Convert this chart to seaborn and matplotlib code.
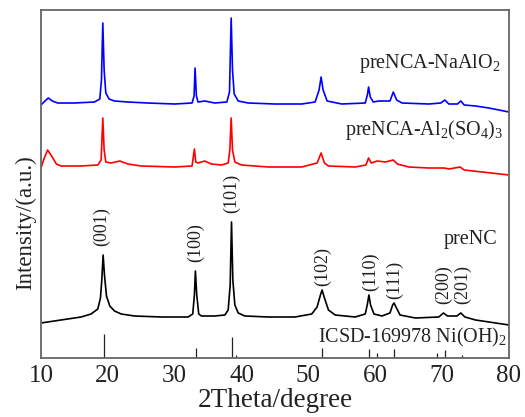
import matplotlib
matplotlib.use("Agg")
import matplotlib.pyplot as plt
import seaborn as sns
import pandas as pd
import numpy as np

# ---- data (2theta, stacked intensity a.u.) ----
preNC_2t = [10.0, 12, 14, 16, 17.5, 18.5, 18.9, 19.1, 19.3, 19.5, 19.8, 20.3, 21, 22, 24, 28, 32,
            32.7, 32.95, 33.1, 33.3, 33.6, 34, 36, 37.5, 38.0, 38.3, 38.5, 38.7, 39.0, 39.5, 40.5,
            44, 48, 50.5, 51.3, 51.8, 52.05, 52.4, 53, 54, 57, 58.5, 58.8, 59.05, 59.3, 59.8, 61,
            62.2, 62.6, 62.8, 63.1, 63.7, 66, 69.5, 70.2, 70.8, 72.2, 72.8, 73.4, 75, 78, 80]
preNC_I = [35, 37, 39, 41, 44, 49, 60, 78, 103, 83, 62, 52, 47, 44, 42, 41, 41,
           44, 63, 87, 63, 44, 42, 42, 43, 48, 73, 136, 78, 53, 45, 42,
           41, 41, 44, 51, 63, 68, 60, 48, 43, 41, 44, 53, 63, 53, 44, 42,
           45, 53, 55, 51, 43, 40, 41, 45, 42, 42, 45, 41, 38, 35, 33]

naalo2_2t = [10.0, 10.6, 11.1, 11.7, 12.5, 15, 18.0, 18.8, 19.05, 19.25, 19.45, 19.7, 20.2, 21, 23,
             26, 30, 32.6, 32.9, 33.05, 33.25, 33.5, 34.5, 36, 37.8, 38.2, 38.45, 38.65, 38.9, 39.5,
             41, 45, 49, 51.0, 51.6, 51.9, 52.2, 52.8, 55, 58.5, 58.85, 59.0, 59.25, 59.7, 60.5,
             62.2, 62.7, 63.2, 64, 68, 69.8, 70.4, 71, 72.3, 72.8, 73.3, 75, 77, 80]
naalo2_I = [253, 257, 260, 257, 255, 255, 256, 259, 278, 335, 288, 265, 259, 257, 256,
            255, 254, 255, 262, 290, 262, 256, 257, 255, 256, 266, 340, 288, 264, 257,
            255, 254, 254, 256, 268, 281, 268, 257, 254, 255, 264, 271, 261, 256, 257,
            257, 266, 258, 255, 254, 255, 258, 254, 254, 257, 253, 252, 250, 246]

al2so43_2t = [10.0, 10.5, 11.0, 11.6, 12.3, 13, 16, 18.5, 19.0, 19.25, 19.45, 19.7, 20.5, 21.8, 23,
              25, 30, 32.6, 32.95, 33.15, 33.5, 34.5, 35.5, 37, 38.0, 38.25, 38.45, 38.65, 39, 40,
              44, 49, 51.3, 51.9, 52.4, 53, 57, 58.6, 59.0, 59.4, 60.3, 61.5, 62.7, 63.3, 65, 68,
              70.3, 71, 72.7, 73.3, 76, 80]
al2so43_I = [190, 200, 208, 202, 194, 192, 192, 193, 198, 240, 208, 196, 195, 197, 194,
             192, 191, 192, 209, 196, 195, 197, 194, 193, 195, 208, 240, 208, 196, 193,
             191, 191, 195, 205, 195, 192, 191, 193, 200, 195, 197, 196, 198, 194, 191, 190,
             190, 189, 191, 188, 186, 183]

# ICSD-169978 Ni(OH)2 reference lines
ref_2t = [19.4, 33.2, 38.6, 39.1, 52.1, 59.1, 60.2, 62.8, 69.3, 70.4, 72.9]
ref_I = [24, 10, 21, 3, 10, 9, 5, 9, 5, 8, 3]

# Miller indices
hkl_labels = ["(001)", "(100)", "(101)", "(102)", "(110)", "(111)", "(200)", "(201)"]
hkl_2t = [19.1, 33.2, 38.5, 52.1, 59.3, 62.9, 70.2, 73.0]
hkl_y = [131, 115, 165, 91, 86, 78, 73, 73]

colors = {"preNC": "#000000", "preNCA-NaAlO2": "#0000ff", "preNCA-Al2(SO4)3": "#ff0000"}

df = pd.concat([
    pd.DataFrame({"2theta": preNC_2t, "I": preNC_I, "sample": "preNC"}),
    pd.DataFrame({"2theta": naalo2_2t, "I": naalo2_I, "sample": "preNCA-NaAlO2"}),
    pd.DataFrame({"2theta": al2so43_2t, "I": al2so43_I, "sample": "preNCA-Al2(SO4)3"}),
])

sns.set_theme(style="white")
plt.rcParams["font.family"] = ["Liberation Serif", "DejaVu Serif"]
plt.rcParams["mathtext.fontset"] = "custom"
plt.rcParams["mathtext.rm"] = "Liberation Serif"
plt.rcParams["mathtext.it"] = "Liberation Serif:italic"

fig = plt.figure(figsize=(5.25, 4.17), dpi=100)
ax = fig.add_axes([0.078, 0.1415, 0.8915, 0.8345])

sns.lineplot(data=df, x="2theta", y="I", hue="sample", palette=colors, sort=False,
             estimator=None, linewidth=1.2, legend=False, ax=ax)

ax.vlines(ref_2t, 0, ref_I, color="#222222", linewidth=0.9)

for lab, x, y in zip(hkl_labels, hkl_2t, hkl_y):
    ax.text(x, y, lab, rotation=90, ha="center", va="center", fontsize=13, color="#222222")

ax.text(78.65, 295, r"preNCA-NaAlO$_2$", ha="right", va="center", fontsize=14.5, color="#222222")
ax.text(79.1, 228, r"preNCA-Al$_2$(SO$_4$)$_3$", ha="right", va="center", fontsize=14.5, color="#222222")
ax.text(78.2, 118, "preNC", ha="right", va="center", fontsize=14.5, color="#222222")
ax.text(79.7, 21, r"ICSD-169978 Ni(OH)$_2$", ha="right", va="center", fontsize=14.5, color="#222222")

ax.set_xlim(10, 80)
ax.set_ylim(0, 348)
ax.set_xticks([10, 20, 30, 40, 50, 60, 70, 80])
ax.set_yticks([])
ax.tick_params(axis="x", length=0, pad=5, labelsize=18, colors="#222222")
ax.set_xlabel("2Theta/degree", fontsize=19.5, labelpad=1, color="#222222")
ax.set_ylabel("Intensity/(a.u.)", fontsize=16.5, color="#222222")
ax.yaxis.set_label_coords(-0.01, 0.39)
for s in ax.spines.values():
    s.set_color("#666666")
    s.set_linewidth(1.3)

fig.savefig("out.png", dpi=100)
